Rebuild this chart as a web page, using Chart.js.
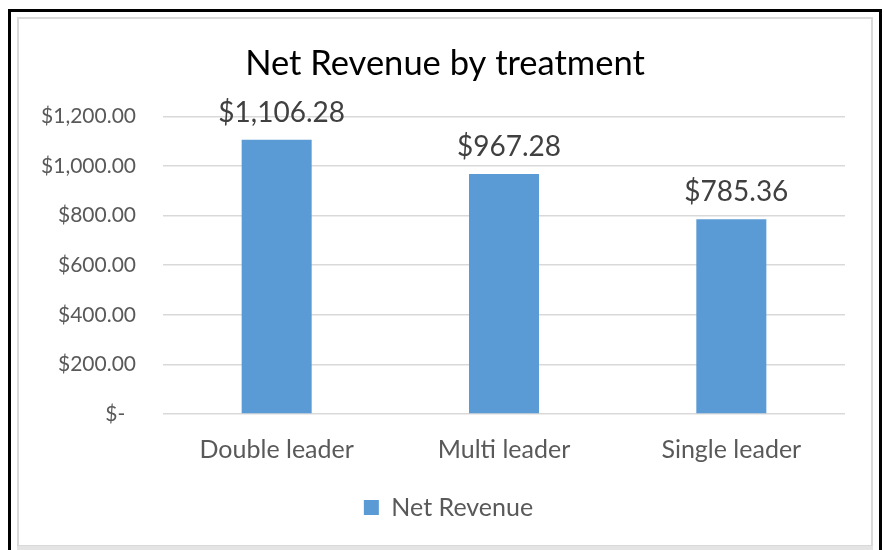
<!DOCTYPE html>
<html>
<head>
<meta charset="utf-8">
<script src="https://cdn.jsdelivr.net/npm/chart.js@4.4.1/dist/chart.umd.min.js"></script>
<style>
    html, body { margin: 0; padding: 0; background: #fff; overflow: hidden; }
    #frame { position: absolute; left: 8px; top: 9px; width: 868px; height: 560px; border: 3px solid #000; }
    #inner { position: absolute; left: 17px; top: 17px; width: 852px; height: 526px; border: 2px solid #d9d9d9; }
    #shade { position: absolute; left: 17px; top: 546px; width: 856px; height: 4px; background: #e4e4e4; }
    #netRevenue { position: absolute; left: 0; top: 0; }
</style>
</head>
<body>
<div id="frame"></div>
<div id="inner"></div>
<div id="shade"></div>
<canvas id="netRevenue" width="885" height="550"></canvas>
<script>
const categories = ['Double leader', 'Multi leader', 'Single leader']
const netRevenue = [1106.28, 967.28, 785.36]
const yTicks = [0, 200, 400, 600, 800, 1000, 1200]

const FONT = 'Lato, "Open Sans", sans-serif'

const money = (v) => '$' + v.toLocaleString('en-US', {minimumFractionDigits: 2, maximumFractionDigits: 2})

// value labels above each bar (Excel puts them a touch right of centre)
const valueLabels = {
    id: 'valueLabels',
    afterDatasetsDraw(chart) {
        const ctx = chart.ctx
        const meta = chart.getDatasetMeta(0)
        ctx.save()
        ctx.font = '28px ' + FONT
        ctx.fillStyle = '#404040'
        ctx.textAlign = 'center'
        ctx.textBaseline = 'middle'
        meta.data.forEach((bar, i) => {
            ctx.fillText(money(netRevenue[i]), bar.x + 5, bar.y - 27)
        })
        ctx.restore()
    }
}

// title and legend sit centred on the whole frame, not on the padded box
const centreBlocks = {
    id: 'centreBlocks',
    afterLayout(chart) {
        chart.titleBlock.left += 12.5
        chart.titleBlock.right += 12.5
        chart.legend.left += 16
        chart.legend.right += 16
    }
}

const ctx = document.getElementById('netRevenue').getContext('2d')
const chart = new Chart(ctx, {
    type: 'bar',
    data: {
        labels: categories,
        datasets: [{
            label: 'Net Revenue',
            data: netRevenue,
            backgroundColor: '#5b9bd5',
            borderWidth: 0,
            barPercentage: 0.308,
            categoryPercentage: 1,
        }],
    },
    options: {
        responsive: false,
        animation: false,
        layout: {padding: {left: 20, right: 40, top: 0, bottom: 20}},
        plugins: {
            tooltip: {enabled: false},
            title: {
                display: true,
                text: 'Net Revenue by treatment',
                color: '#000',
                font: {family: FONT, size: 34.5, weight: 'normal'},
                padding: {top: 43, bottom: 32},
            },
            legend: {
                position: 'bottom',
                labels: {
                    color: '#595959',
                    font: {family: FONT, size: 25},
                    boxWidth: 15,
                    boxHeight: 15,
                    padding: 9,
                },
            },
        },
        scales: {
            x: {
                grid: {display: false},
                border: {display: false},
                ticks: {color: '#595959', font: {family: FONT, size: 25}, padding: 13},
                afterFit: (scale) => { scale.height = 72 },
            },
            y: {
                min: yTicks[0],
                max: yTicks[yTicks.length - 1],
                afterBuildTicks: (scale) => { scale.ticks = yTicks.map(v => ({value: v})) },
                grid: {color: '#d9d9d9', lineWidth: 1.5, drawTicks: false},
                border: {display: false},
                ticks: {
                    color: '#595959',
                    font: {family: FONT, size: 21},
                    padding: 27,
                    callback: (v) => v === 0 ? '$-  ' : money(v),
                },
                afterFit: (scale) => { scale.width = 143 },
            },
        },
    },
    plugins: [valueLabels, centreBlocks],
})
</script>
</body>
</html>
